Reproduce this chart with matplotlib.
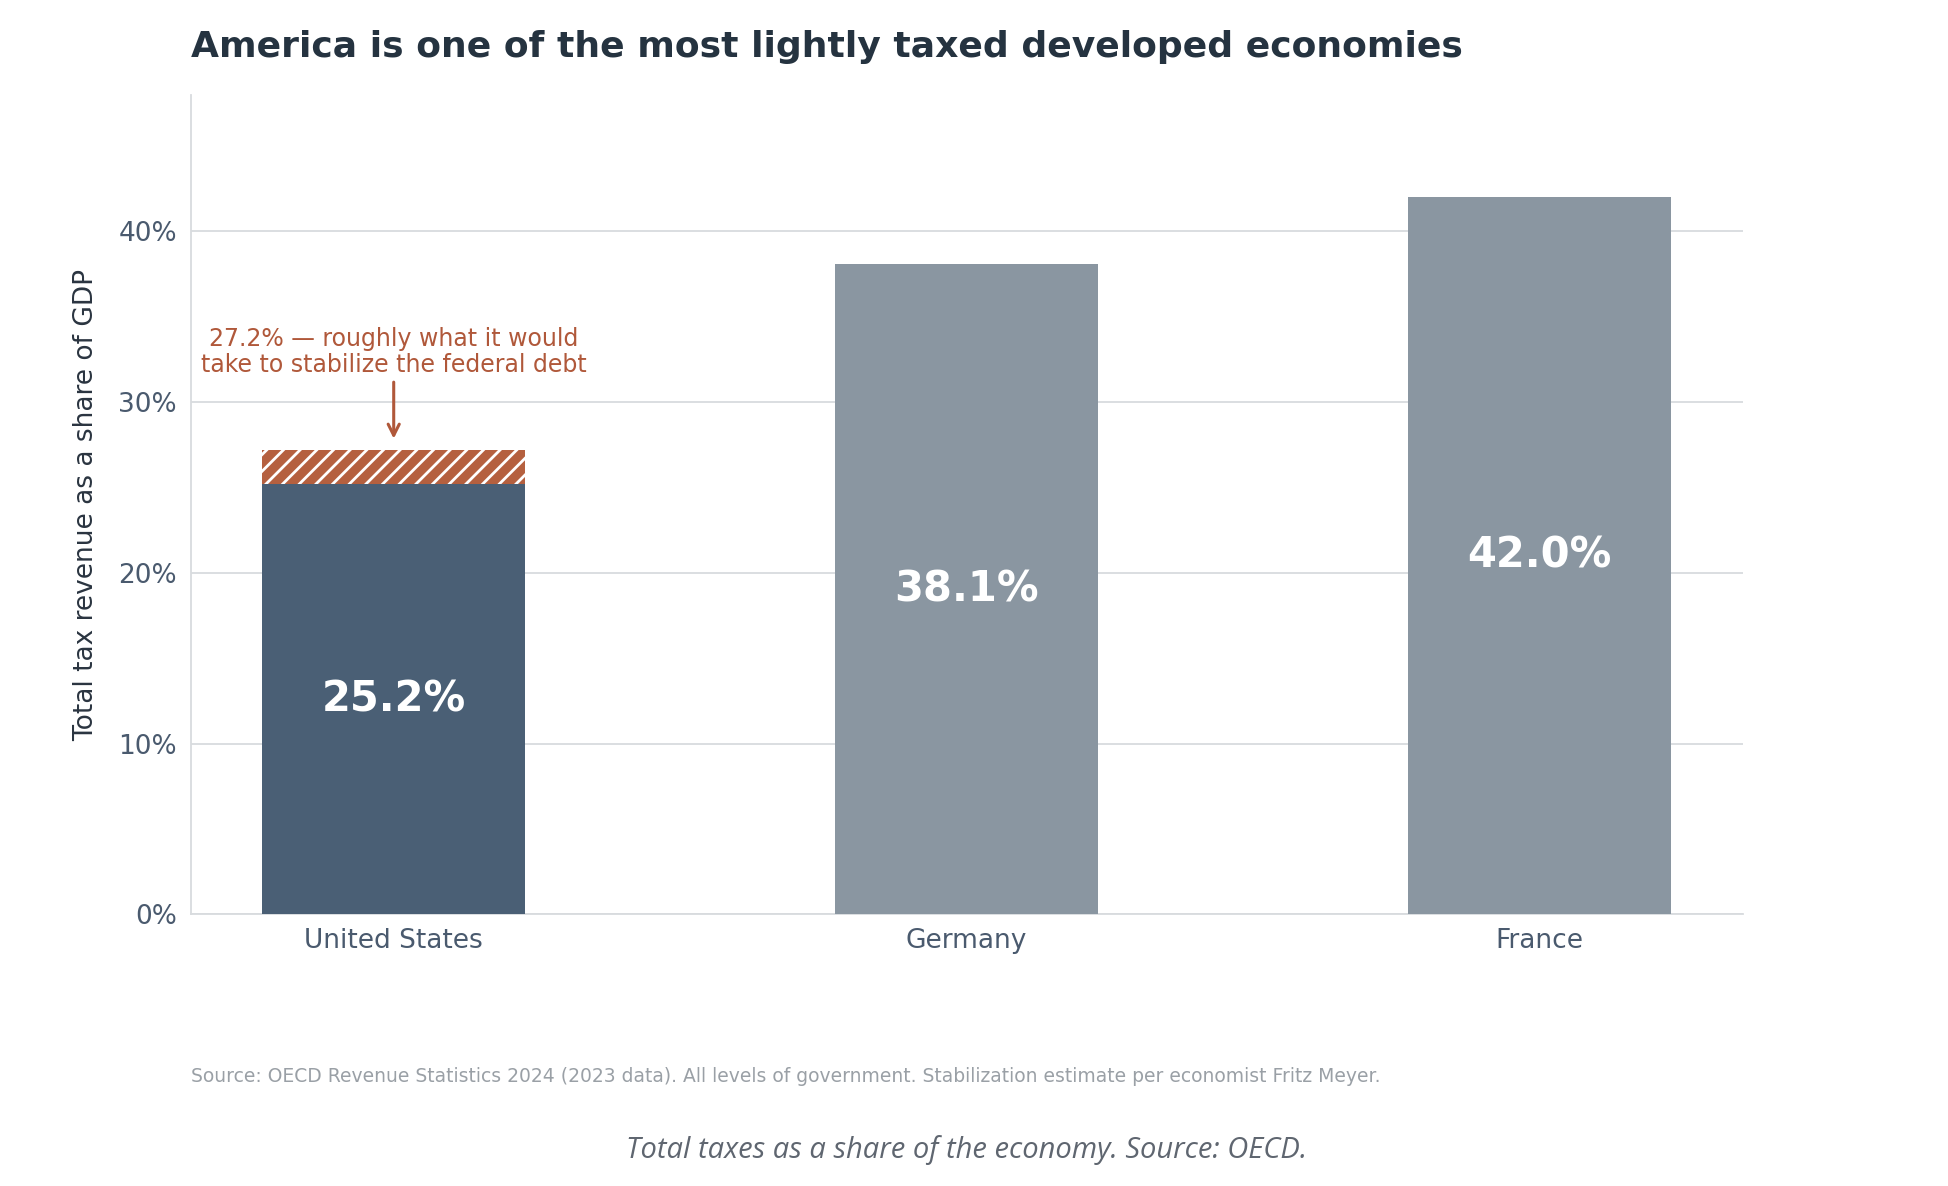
import matplotlib
matplotlib.use("Agg")
import matplotlib.pyplot as plt
import matplotlib as mpl

countries = ["United States", "Germany", "France"]
values = [25.2, 38.1, 42.0]
us_target = 27.2
yticks = [0, 10, 20, 30, 40]

mpl.rcParams['hatch.color'] = 'white'
mpl.rcParams['hatch.linewidth'] = 2.0
fig = plt.figure(figsize=(19.48, 11.86), dpi=100)
ax = fig.add_axes([0.098, 0.229, 0.797, 0.691])
colors = ["#4a5f75", "#8a96a1", "#8a96a1"]
x = list(range(len(countries)))
ax.bar(x, values, width=0.46, color=colors, zorder=3)
ax.bar([0], [us_target - values[0]], bottom=[values[0]], width=0.46,
       color="#b5603f", hatch="//", edgecolor="white", linewidth=0, zorder=3)
for xi, v in zip(x, values):
    ax.text(xi, v / 2, f"{v:.1f}%", ha="center", va="center", color="white",
            fontsize=30, fontweight="bold", zorder=4)
ax.annotate("27.2% — roughly what it would\ntake to stabilize the federal debt",
            xy=(0, us_target + 0.5), xytext=(0, 31.5), ha="center", va="bottom",
            fontsize=17, color="#b0583a", linespacing=1.1,
            arrowprops=dict(arrowstyle="->", color="#b0583a", lw=2.2, mutation_scale=20))
ax.set_xlim(-0.354, 2.356)
ax.set_ylim(0, 48)
ax.set_yticks(yticks)
ax.set_yticklabels([f"{t}%" for t in yticks])
ax.set_xticks(x)
ax.set_xticklabels(countries)
ax.tick_params(axis="both", labelsize=19, colors="#4a5a6e", length=0, pad=10)
ax.grid(axis="y", color="#d8dbde", lw=1.3, zorder=0)
for s in ["top", "right"]:
    ax.spines[s].set_visible(False)
for s in ["left", "bottom"]:
    ax.spines[s].set_color("#d8dbde")
    ax.spines[s].set_linewidth(1.3)
ax.set_ylabel("Total tax revenue as a share of GDP", fontsize=19, color="#2a3440", labelpad=14)
fig.text(0.098, 0.975, "America is one of the most lightly taxed developed economies",
         fontsize=26, fontweight="bold", color="#253340", va="top", ha="left")
fig.text(0.098, 0.092, "Source: OECD Revenue Statistics 2024 (2023 data). All levels of government. Stabilization estimate per economist Fritz Meyer.",
         fontsize=13.5, color="#9aa0a6", va="center", ha="left")
fig.text(0.496, 0.03, "Total taxes as a share of the economy. Source: OECD.",
         fontsize=21, color="#5f6670", style="italic", family="Open Sans", va="center", ha="center")
fig.savefig("out.png", dpi=100)
